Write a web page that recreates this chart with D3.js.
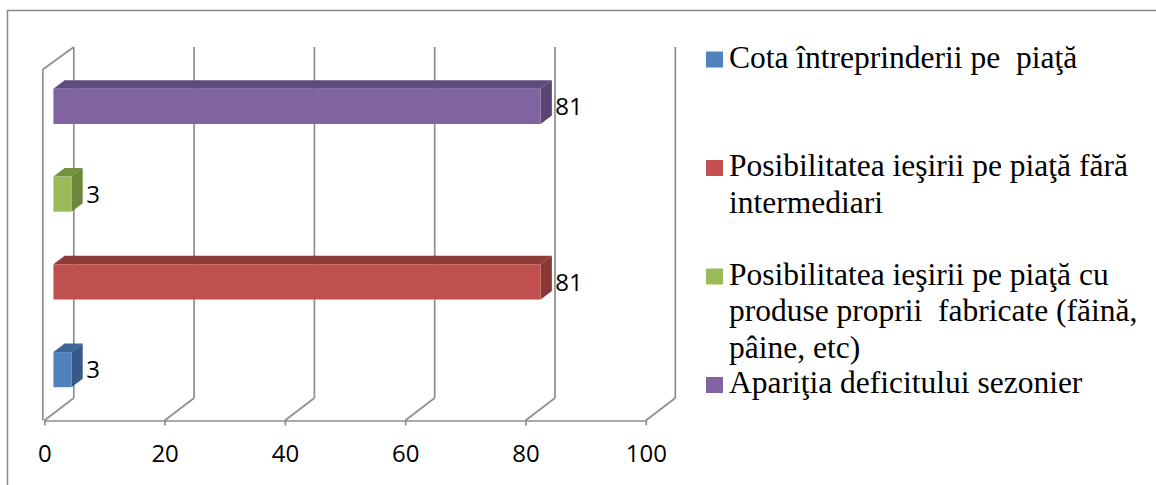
<!DOCTYPE html>
<html>
<head>
<meta charset="utf-8">
<script src="https://cdn.jsdelivr.net/npm/d3@7"></script>
<style>
  html, body { margin: 0; padding: 0; background: #fff; }
  svg { display: block; }
  text { white-space: pre; }
</style>
</head>
<body>
<svg id="chart" width="1156" height="485"></svg>
<script>
// Series (one bar each), bottom to top in the plot
const seriesNames = [
  "Cota întreprinderii pe  piaţă",
  "Posibilitatea ieşirii pe piaţă fără intermediari",
  "Posibilitatea ieşirii pe piaţă cu produse proprii  fabricate (făină, pâine, etc)",
  "Apariţia deficitului sezonier"
];
const seriesValues = [3, 81, 3, 81];
// Legend text, wrapped as drawn
const legendLines = [
  ["Cota întreprinderii pe  piaţă"],
  ["Posibilitatea ieşirii pe piaţă fără", "intermediari"],
  ["Posibilitatea ieşirii pe piaţă cu", "produse proprii  fabricate (făină,", "pâine, etc)"],
  ["Apariţia deficitului sezonier"]
];
const xTicks = [0, 20, 40, 60, 80, 100];

// Face colours: front, top, side
const faceFront = ["#4F81BD", "#C0504D", "#9BBB59", "#8064A2"];
const faceTop   = ["#3D6699", "#8F3B39", "#74913F", "#5F4B7D"];
const faceSide  = ["#36598A", "#883735", "#6B873A", "#584574"];

const NUM_FONT = "Open Sans, sans-serif";
const LEGEND_FONT = "Liberation Serif";

const svg = d3.select("#chart");

// outer chart-area border (runs off the right and bottom edges)
svg.append("rect")
  .attr("x", 7.5).attr("y", 10.5)
  .attr("width", 1200).attr("height", 500)
  .attr("fill", "#fff")
  .attr("stroke", "#8a8a8a").attr("stroke-width", 1.5);

// 3-D plot geometry: front plane + oblique depth offset
const floorY = 420.5, topY = 69.5;
const DX = 29.5, DY = 22.5;
const x = d3.scaleLinear().domain([0, 100]).range([44.3, 645.8]);
const y = d3.scaleBand().domain(d3.range(seriesNames.length))
  .range([floorY, topY]).paddingInner(0.6).paddingOuter(0.3);

const P = (v, yy, z) => [x(v) + z * DX, yy - z * DY];
const line = d3.line();

const grid = svg.append("g")
  .attr("fill", "none").attr("stroke", "#8e8e8e").attr("stroke-width", 1.7);

// back wall verticals and floor diagonals
xTicks.forEach(t => {
  grid.append("path").attr("d", line([P(t, floorY, 1), P(t, topY, 1)]));
  grid.append("path").attr("d", line([P(t, floorY, 0), P(t, floorY, 1)]));
});
// left wall outline
const lw = [P(0, floorY, 0), P(0, topY, 0), P(0, topY, 1)];
lw[0][0] -= 1.5; lw[1][0] -= 1.5;
grid.append("path").attr("d", line(lw));

// front axis with ticks and labels
const axis = d3.axisBottom(x).tickValues(xTicks).tickSize(5).tickSizeOuter(0).tickPadding(19);
const ax = svg.append("g").attr("transform", `translate(0,${floorY})`).call(axis);
ax.select(".domain").attr("stroke", "#8e8e8e").attr("stroke-width", 1.7);
ax.selectAll(".tick line").attr("stroke", "#8e8e8e").attr("stroke-width", 1.7);
ax.selectAll(".tick text")
  .style("font-family", NUM_FONT).style("font-size", "24px").attr("fill", "#000");

// 3-D bars
const z1 = 0.31, z2 = 0.69;
const bars = svg.append("g");
seriesValues.forEach((v, i) => {
  const top = y(i), bot = y(i) + y.bandwidth();
  const g = bars.append("g");
  g.append("path").attr("fill", faceTop[i])
    .attr("d", line([P(0, top, z1), P(v, top, z1), P(v, top, z2), P(0, top, z2)]) + "Z");
  g.append("path").attr("fill", faceSide[i])
    .attr("d", line([P(v, top, z1), P(v, top, z2), P(v, bot, z2), P(v, bot, z1)]) + "Z");
  g.append("path").attr("fill", faceFront[i])
    .attr("d", line([P(0, top, z1), P(v, top, z1), P(v, bot, z1), P(0, bot, z1)]) + "Z");
  // value label beside the bar end
  const [lx] = P(v, top, z2);
  const [, ly] = P(v, (top + bot) / 2, z1);
  g.append("text")
    .attr("x", lx + 3.5).attr("y", ly).attr("dy", "0.36em")
    .style("font-family", NUM_FONT).style("font-size", "24px").attr("fill", "#000")
    .text(v);
});

// legend
const legend = svg.append("g").attr("transform", "translate(706,0)");
legendLines.forEach((lines, i) => {
  const base = 67.5 + i * 108.5;
  legend.append("rect")
    .attr("x", 0).attr("y", base - 16).attr("width", 17).attr("height", 16)
    .attr("fill", faceFront[i]);
  const t = legend.append("text")
    .style("font-family", LEGEND_FONT).style("font-size", "31.5px").attr("fill", "#000");
  lines.forEach((s, k) => {
    t.append("tspan").attr("x", 23).attr("y", base + k * 36.7).text(s);
  });
});
</script>
</body>
</html>
